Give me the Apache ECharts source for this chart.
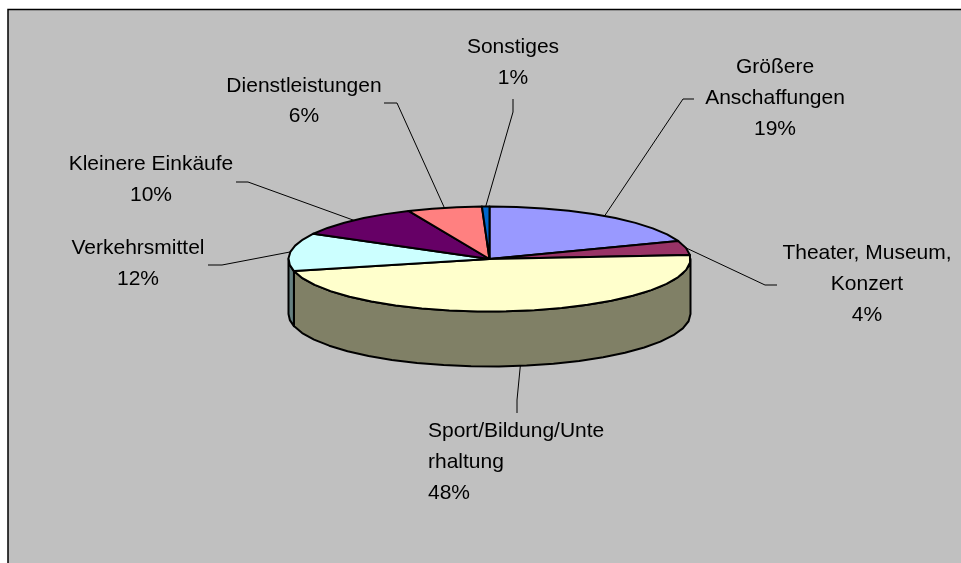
<!DOCTYPE html>
<html><head><meta charset="utf-8">
<style>html,body{margin:0;padding:0;background:#fff}#c{width:961px;height:563px}</style>
<script src="https://cdn.jsdelivr.net/npm/echarts@6/dist/echarts.min.js"></script>
</head><body><div id="c"></div>
<script>
var categories = ['Größere\nAnschaffungen','Theater, Museum,\nKonzert','Sport/Bildung/Unte\nrhaltung','Verkehrsmittel','Kleinere Einkäufe','Dienstleistungen','Sonstiges'];
var values = [19.4, 4.4, 47.5, 11.7, 10.4, 6, 0.6];
var topColors = ['#9999FF','#993366','#FFFFCC','#CCFFFF','#660066','#FF8080','#0066CC'];
var sideColors = ['#4D4D80','#4D1A33','#808066','#668080','#330033','#804040','#003366'];
// label layout: text centre / align, elbow and end of leader line (pixels)
var labelLayout = [
  {x:775,y:[67,98,129],align:'center',lead:[[683,99],[694,99]]},
  {x:867,y:[253,284,315],align:'center',lead:[[765,285],[777,285]]},
  {x:428,y:[431,462,493],align:'left',lead:[[517,400],[517,413]]},
  {x:138,y:[248,279],align:'center',lead:[[222,265],[208,265]]},
  {x:151,y:[164,195],align:'center',lead:[[248,182],[236,182]]},
  {x:304,y:[86,116],align:'center',lead:[[397,103],[384,103]]},
  {x:513,y:[47,78],align:'center',lead:[[513,112],[513,99]]}
];
var cx=489.5, cy=259, rx=201, ry=52.5, depth=55;
var total = values.reduce(function(a,b){return a+b},0);
var seriesData=[], acc=0;
values.forEach(function(v,i){seriesData.push({name:categories[i],value:[acc,acc+v,v,i]});acc+=v;});
function unit(p){var t=p/total*2*Math.PI;return [Math.sin(t),Math.cos(t)];}
function arcPts(api,a,b,dy){
  var pts=[],n=Math.max(2,Math.ceil((b-a)/100*44));
  for(var k=0;k<=n;k++){var u=unit(a+(b-a)*k/n);var c=api.coord(u);pts.push([c[0],c[1]+(dy||0)]);}
  return pts;
}
function renderItem(params,api){
  var a=api.value(0),b=api.value(1),i=api.value(3);
  var kids=[];
  var stroke={stroke:'#000',lineWidth:2,lineJoin:'round'};
  function wall(a1,b1,fill){
    if(b1<=a1)return;
    var top=arcPts(api,a1,b1,0),bot=arcPts(api,a1,b1,depth).reverse();
    kids.push({type:'polygon',shape:{points:top.concat(bot)},style:Object.assign({fill:fill},stroke)});
  }
  wall(Math.max(a,25),Math.min(b,75),sideColors[i]);
  return {type:'group',children:kids};
}
function renderTop(params,api){
  var a=api.value(0),b=api.value(1),i=api.value(3);
  var ctr=api.coord([0,0]);
  var pts=[ctr].concat(arcPts(api,a,b,0));
  return {type:'polygon',shape:{points:pts},style:{fill:topColors[i],stroke:'#000',lineWidth:2,lineJoin:'round'}};
}
function renderLabel(params,api){
  var a=api.value(0),b=api.value(1),v=api.value(2),i=api.value(3);
  var L=labelLayout[i],kids=[];
  var mid=(a+b)/2,u=unit(mid),c=api.coord(u);
  var dy=(mid>25&&mid<75)?depth:0;
  var pts=[[c[0],c[1]+dy]].concat(L.lead);
  kids.push({type:'polyline',shape:{points:pts},style:{fill:null,stroke:'#000',lineWidth:1}});
  var lines=categories[i].split('\n').concat([Math.round(v/total*100)+'%']);
  lines.forEach(function(t,k){
    kids.push({type:'text',style:{text:t,x:L.x,y:L.y[k],align:L.align,verticalAlign:'middle',fill:'#000',
      font:'21px "Liberation Sans", Arial, sans-serif'}});
  });
  return {type:'group',children:kids};
}
var chart=echarts.init(document.getElementById('c'),null,{renderer:'canvas'});
chart.setOption({
  animation:false,
  backgroundColor:'#fff',
  graphic:[{type:'rect',z:-10,shape:{x:8,y:9.5,width:960,height:560},style:{fill:'#C0C0C0',stroke:'#000',lineWidth:1.5}}],
  grid:{left:cx-rx,width:2*rx,top:cy-ry,height:2*ry,containLabel:false},
  xAxis:{type:'value',min:-1,max:1,show:false},
  yAxis:{type:'value',min:-1,max:1,show:false},
  series:[
    {type:'custom',name:'Seite',coordinateSystem:'cartesian2d',renderItem:renderItem,data:seriesData,z:2,silent:true,encode:{x:-1,y:-1}},
    {type:'custom',name:'Anteile',coordinateSystem:'cartesian2d',renderItem:renderTop,data:seriesData,z:3,silent:true,encode:{x:-1,y:-1}},
    {type:'custom',name:'Beschriftung',coordinateSystem:'cartesian2d',renderItem:renderLabel,data:seriesData,z:4,silent:true,encode:{x:-1,y:-1}}
  ]
});
</script></body></html>
